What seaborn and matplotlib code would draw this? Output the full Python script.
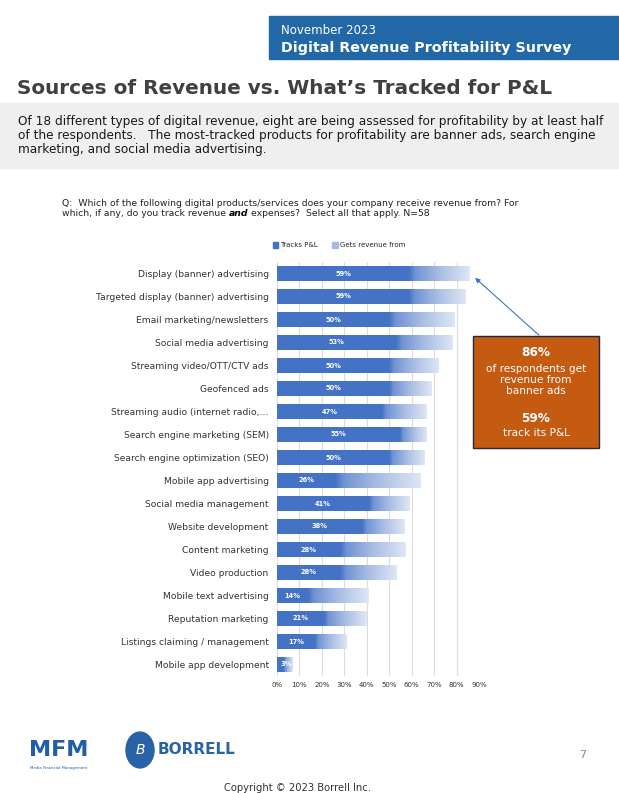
import numpy as np
import matplotlib
matplotlib.use("Agg")
import matplotlib.pyplot as plt
import matplotlib.patches as patches
from matplotlib.colors import LinearSegmentedColormap
import seaborn as sns

# Datos
categorias = [
    "Display (banner) advertising",
    "Targeted display (banner) advertising",
    "Email marketing/newsletters",
    "Social media advertising",
    "Streaming video/OTT/CTV ads",
    "Geofenced ads",
    "Streaming audio (internet radio,…",
    "Search engine marketing (SEM)",
    "Search engine optimization (SEO)",
    "Mobile app advertising",
    "Social media management",
    "Website development",
    "Content marketing",
    "Video production",
    "Mobile text advertising",
    "Reputation marketing",
    "Listings claiming / management",
    "Mobile app development",
]
gets_revenue = [86, 84, 79, 78, 72, 69, 67, 67, 66, 64, 59, 57, 57, 53, 41, 40, 31, 7]
tracks_pl = [59, 59, 50, 53, 50, 50, 47, 55, 50, 26, 41, 38, 28, 28, 14, 21, 17, 3]
xticks = [0, 10, 20, 30, 40, 50, 60, 70, 80, 90]

W, H = 619, 793
AZUL = "#4472C4"

sns.set_theme(style="white")
plt.rcParams['font.family'] = ['DejaVu Sans']

fig = plt.figure(figsize=(W / 100, H / 100), dpi=100)


def fx(px):
    return px / W


def fy(py):
    return 1 - py / H


# Cabecera azul
fig.patches.append(patches.Rectangle((fx(269), fy(59)), fx(619 - 269), 43 / H,
                                     transform=fig.transFigure, color="#2368A6", zorder=0))
fig.text(fx(281), fy(30), "November 2023", color="white", fontsize=8.5, va="center")
fig.text(fx(281), fy(48), "Digital Revenue Profitability Survey", color="white",
         fontsize=10.3, fontweight="bold", va="center")

# Titulo
fig.text(fx(17), fy(88), "Sources of Revenue vs. What\u2019s Tracked for P&L", color="#404040",
         fontsize=14.4, fontweight="bold", va="center")

# Banda gris
fig.patches.append(patches.Rectangle((0, fy(168)), 1, 65 / H, transform=fig.transFigure,
                                     color="#efefef", zorder=0))
fig.text(fx(18), fy(136),
         "Of 18 different types of digital revenue, eight are being assessed for profitability by at least half\n"
         "of the respondents.   The most-tracked products for profitability are banner ads, search engine\n"
         "marketing, and social media advertising.",
         color="#1a1a1a", fontsize=8.7, va="center", linespacing=1.1)

# Pregunta
fs_q = 6.65
fig.text(fx(62), fy(203),
         "Q:  Which of the following digital products/services does your company receive revenue from? For",
         color="#222222", fontsize=fs_q, va="center")
t1 = fig.text(fx(62), fy(214), "which, if any, do you track revenue ", color="#222222", fontsize=fs_q,
              va="center")
fig.canvas.draw()
bb = t1.get_window_extent()
t2 = fig.text(bb.x1 / W, fy(214), "and", color="#000000", fontsize=fs_q, va="center",
              fontweight="bold", fontstyle="italic")
bb2 = t2.get_window_extent()
fig.text(bb2.x1 / W, fy(214), " expenses?  Select all that apply. N=58", color="#222222",
         fontsize=fs_q, va="center")

# Grafico
ax = fig.add_axes([fx(277), fy(676), fx(479 - 277), (676 - 262) / H])
sns.barplot(x=gets_revenue, y=categorias, color="#dde5f4", orient="h", width=0.65,
            saturation=1, linewidth=0, ax=ax, zorder=2)
rev_patches = list(ax.patches)

sns.barplot(x=tracks_pl, y=categorias, color=AZUL, orient="h", width=0.65,
            saturation=1, linewidth=0, ax=ax, zorder=3)

# degradado entre P&L y revenue
cmap = LinearSegmentedColormap.from_list(
    "grad", [(0, AZUL), (0.1, "#6f93d3"), (0.5, "#a9bde4"), (1, "#dfe7f5")])
grad = np.linspace(0, 1, 256).reshape(1, -1)
for p, pl, rv in zip(rev_patches, tracks_pl, gets_revenue):
    y0, y1 = p.get_y(), p.get_y() + p.get_height()
    im = ax.imshow(grad, cmap=cmap, aspect="auto", extent=[pl, rv, y1, y0],
                   zorder=3.5, interpolation="bilinear")
    im.set_clip_path(p)

for i, v in enumerate(tracks_pl):
    ax.text(max(v / 2, 4), i, f"{v}%", color="white", fontsize=4.8, fontweight="bold",
            ha="center", va="center", zorder=4)

ax.set_xlim(0, 90)
ax.set_ylim(17.5, -0.5)
ax.set_xticks(xticks)
ax.set_xticklabels([f"{t}%" for t in xticks], fontsize=5, color="#333333")
ax.tick_params(axis="y", labelsize=6.6, colors="#333333", length=0, pad=6)
ax.tick_params(axis="x", length=0, pad=4)
ax.set_xlabel("")
ax.set_ylabel("")
for s in ax.spines.values():
    s.set_visible(False)
ax.grid(axis="x", color="#dcdcdc", linewidth=0.8, zorder=0)
ax.set_axisbelow(True)

# Leyenda
handles = [patches.Patch(color=AZUL, label="Tracks P&L"),
           patches.Patch(color="#a9bde4", label="Gets revenue from")]
ax.legend(handles=handles, loc="center", bbox_to_anchor=(0.307, 1.04), ncol=2,
          frameon=False, fontsize=5, handlelength=0.8, handleheight=0.8,
          columnspacing=2.0, handletextpad=0.3)

# Cuadro de llamada
fig.patches.append(patches.Rectangle((fx(473), fy(448)), fx(599 - 473), (448 - 336) / H,
                                     transform=fig.transFigure, facecolor="#C55A11",
                                     edgecolor="#1f2a44", linewidth=1, zorder=5))
cx = fx(536)
fig.text(cx, fy(353), "86%", color="white", fontsize=8.7, fontweight="bold", ha="center",
         va="center", zorder=6)
fig.text(cx, fy(380), "of respondents get\nrevenue from\nbanner ads", color="white",
         fontsize=7.6, ha="center", va="center", linespacing=1.15, zorder=6)
fig.text(cx, fy(418), "59%", color="white", fontsize=8.7, fontweight="bold", ha="center",
         va="center", zorder=6)
fig.text(cx, fy(433), "track its P&L", color="white", fontsize=7.6, ha="center",
         va="center", zorder=6)

# Flecha
fig.add_artist(patches.FancyArrowPatch((fx(541), fy(337)), (fx(473), fy(276)),
                                       transform=fig.transFigure, arrowstyle="-|>",
                                       mutation_scale=7, color=AZUL, linewidth=0.8))

# Pie de pagina
fig.text(fx(29), fy(750), "MFM", color="#1f5fa8", fontsize=16, fontweight="bold",
         va="center", ha="left")
fig.text(fx(30), fy(768), "Media Financial Management", color="#1f5fa8", fontsize=2.8,
         va="center", ha="left")
fig.patches.append(patches.Circle((fx(140), fy(750)), 14 / W, transform=fig.transFigure,
                                  color="#2a63a5", zorder=1))
fig.text(fx(140), fy(750), "B", color="white", fontsize=10, fontstyle="italic",
         ha="center", va="center")
fig.text(fx(158), fy(750), "BORRELL", color="#2a63a5", fontsize=11, fontweight="bold",
         va="center", ha="left")
fig.text(fx(583), fy(755), "7", color="#888888", fontsize=8, va="center", ha="center")
fig.text(fx(297), fy(788), "Copyright \u00a9 2023 Borrell Inc.", color="#333333", fontsize=7.2,
         va="center", ha="center")

fig.savefig("out.png", dpi=100)
